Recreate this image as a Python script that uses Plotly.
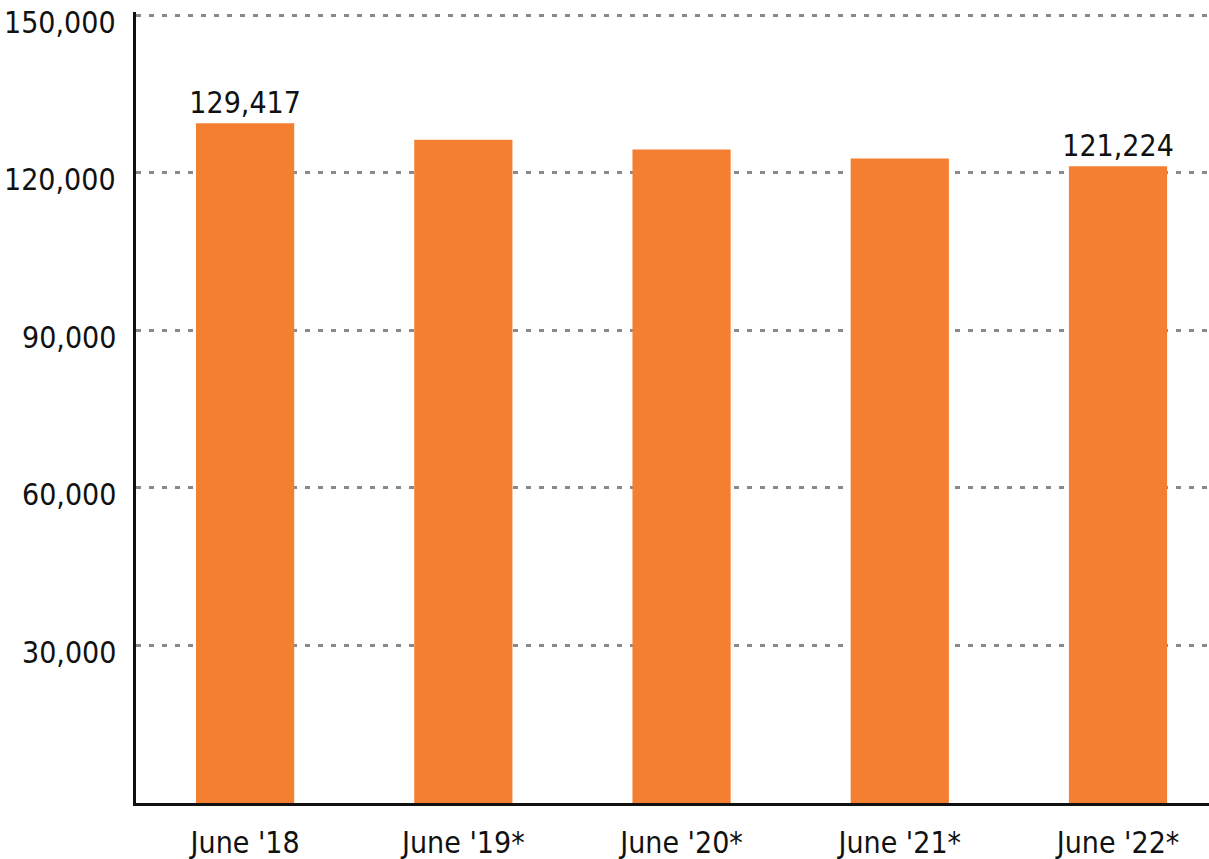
import plotly.graph_objects as go

categories = ["June '18", "June '19*", "June '20*", "June '21*", "June '22*"]
values = [129417, 126300, 124400, 122700, 121224]
labels = ["129,417", "", "", "", "121,224"]
y_ticks = [30000, 60000, 90000, 120000, 150000]
y_tick_text = ["30,000", "60,000", "90,000", "120,000", "150,000"]

FONT = "DejaVu Sans Condensed, Liberation Sans Narrow, sans-serif"
FS = 30

fig = go.Figure(go.Bar(
    x=list(range(len(categories))),
    y=values,
    text=labels,
    textposition="outside",
    constraintext="none",
    textfont=dict(family=FONT, size=FS, color="#111111"),
    marker=dict(color="#F47F31", line=dict(width=0)),
    cliponaxis=False,
))

# y tick labels drawn as annotations on the y scale (sit slightly below their gridline)
for v, t in zip(y_ticks, y_tick_text):
    fig.add_annotation(
        x=0, xref="paper", xanchor="right", xshift=-18,
        y=v, yref="y", yanchor="middle", yshift=-7,
        text=t, showarrow=False,
        font=dict(family=FONT, size=FS, color="#111111"),
    )

fig.update_layout(
    width=1209, height=859,
    margin=dict(l=136, r=0, t=12, b=56, autoexpand=False),
    paper_bgcolor="white", plot_bgcolor="white",
    bargap=0.55,
    showlegend=False,
    font=dict(family=FONT, size=FS, color="#111111"),
)
fig.update_xaxes(
    tickvals=list(range(len(categories))), ticktext=categories,
    range=[-0.5, 4.417], automargin=False,
    showline=True, linecolor="#111111", linewidth=2.5,
    showgrid=False, ticks="", ticklabelstandoff=11,
    tickfont=dict(family=FONT, size=FS, color="#111111"),
)
fig.update_yaxes(
    range=[0, 150600], tickvals=y_ticks, showticklabels=False, automargin=False,
    showline=True, linecolor="#111111", linewidth=2.5,
    showgrid=True, gridcolor="#8a8a8a", gridwidth=2.5, griddash="5px,8px",
    zeroline=False, ticks="",
)

fig.write_html("out.html", config={"displayModeBar": False},
               post_script="document.body.style.margin='0';")
